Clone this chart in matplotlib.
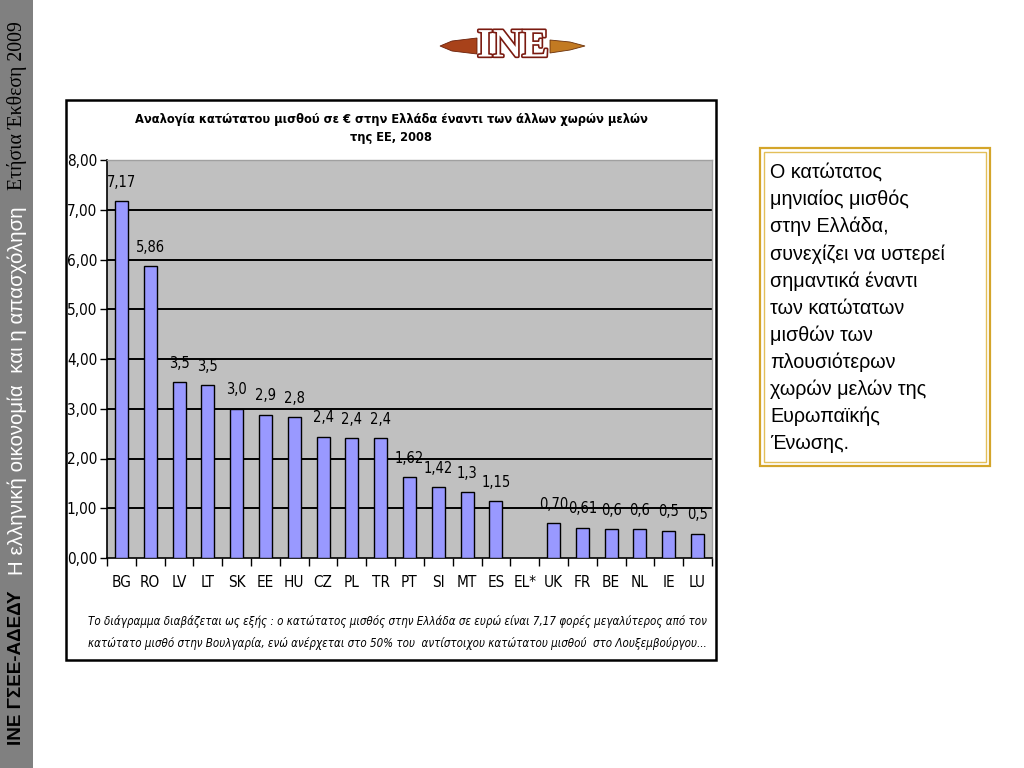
import matplotlib
matplotlib.use("Agg")
import matplotlib.pyplot as plt
from matplotlib import font_manager as fm
from matplotlib.patches import Rectangle, Polygon
from matplotlib.ticker import FixedLocator, FuncFormatter
import matplotlib.patheffects as pe

# ---- data -------------------------------------------------------------
countries = ["BG", "RO", "LV", "LT", "SK", "EE", "HU", "CZ", "PL", "TR", "PT",
             "SI", "MT", "ES", "EL*", "UK", "FR", "BE", "NL", "IE", "LU"]
ratios = [7.17, 5.86, 3.53, 3.47, 3.00, 2.88, 2.83, 2.44, 2.41, 2.41, 1.62,
          1.42, 1.32, 1.15, None, 0.70, 0.61, 0.58, 0.58, 0.55, 0.49]
value_labels = ["7,17", "5,86", "3,5", "3,5", "3,0", "2,9", "2,8", "2,4", "2,4",
                "2,4", "1,62", "1,42", "1,3", "1,15", "", "0,70", "0,61", "0,6",
                "0,6", "0,5", "0,5"]
y_ticks = [0, 1, 2, 3, 4, 5, 6, 7, 8]

chart_title = ("Αναλογία κατώτατου μισθού σε € στην Ελλάδα έναντι των άλλων χωρών μελών\n"
               "της ΕΕ, 2008")
footnote = ("Το διάγραμμα διαβάζεται ως εξής : ο κατώτατος μισθός στην Ελλάδα σε ευρώ είναι 7,17 φορές μεγαλύτερος από τον\n"
            "κατώτατο μισθό στην Βουλγαρία, ενώ ανέρχεται στο 50% του  αντίστοιχου κατώτατου μισθού  στο Λουξεμβούργου...")
side_note = ("Ο κατώτατος\nμηνιαίος μισθός\nστην Ελλάδα,\nσυνεχίζει να υστερεί\n"
             "σημαντικά έναντι\nτων κατώτατων\nμισθών των\nπλουσιότερων\n"
             "χωρών μελών της\nΕυρωπαϊκής\nΈνωσης.")

# pick a narrow face if one is installed (chart text in the original is Arial Narrow)
_fonts = {(f.name, f.stretch) for f in fm.fontManager.ttflist}
if any(n == "Liberation Sans Narrow" for n, _ in _fonts):
    NARROW = dict(family="Liberation Sans Narrow")
    have_narrow = True
elif ("DejaVu Sans", "condensed") in _fonts:
    NARROW = dict(family="DejaVu Sans", fontstretch="condensed")
    have_narrow = True
else:
    NARROW = dict(family="Liberation Sans")
    have_narrow = False
ARIAL = dict(family=["Liberation Sans", "DejaVu Sans"])
SERIF = dict(family=["Liberation Serif", "DejaVu Serif"])
small_fs = 10.5 if have_narrow else 9.5

W, H = 1024, 768
fig = plt.figure(figsize=(W / 100, H / 100), dpi=100, facecolor="white")
renderer = fig.canvas.get_renderer()


def fit(txt, target_px, along="width"):
    """Scale a text's font size so its extent matches target_px."""
    bb = txt.get_window_extent(renderer)
    cur = bb.width if along == "width" else bb.height
    txt.set_fontsize(txt.get_fontsize() * target_px / cur)


# background layer in pixel coordinates
bg = fig.add_axes([0, 0, 1, 1], zorder=0)
bg.set_xlim(0, W)
bg.set_ylim(H, 0)
bg.set_axis_off()

# left sidebar
bg.add_patch(Rectangle((0, 0), 33, H, facecolor="#808080", edgecolor="none"))
t1 = bg.text(17, 745, "ΙΝΕ ΓΣΕΕ-ΑΔΕΔΥ", rotation=90, ha="center", va="bottom",
             fontsize=13, fontweight="bold", color="black", **ARIAL)
t2 = bg.text(17, 575, "Η ελληνική οικονομία  και η απασχόληση", rotation=90,
             ha="center", va="bottom", fontsize=14, color="white", **ARIAL)
t3 = bg.text(17, 190, "Ετήσια Έκθεση 2009", rotation=90, ha="center",
             va="bottom", fontsize=14, color="black", **SERIF)
fit(t1, 155, "height")
fit(t2, 370, "height")
fit(t3, 170, "height")

# logo
bg.add_patch(Polygon([[440, 46], [452, 41], [477, 38], [477, 54], [452, 51]],
                     closed=True, facecolor="#a8421a", edgecolor="#6a200a", lw=0.6))
bg.add_patch(Polygon([[550, 40], [570, 42], [585, 46], [570, 50], [550, 53]],
                     closed=True, facecolor="#c27a22", edgecolor="#6a300a", lw=0.6))
bg.text(513, 47, "INE", ha="center", va="center", fontsize=29,
        fontweight="bold", color="white", **SERIF,
        path_effects=[pe.withStroke(linewidth=2.4, foreground="#7a1a10")])

# chart frame
bg.add_patch(Rectangle((66, 100), 650, 560, facecolor="white",
                       edgecolor="black", lw=1.8))
tt = bg.text(391, 128.5, chart_title, ha="center", va="center", fontsize=11.5,
             fontweight="bold", linespacing=1.6, **NARROW)
fit(tt, 515)
ft = bg.text(397, 632.5, footnote, ha="center", va="center", fontsize=10.5,
             style="italic", linespacing=1.8, **NARROW)
fit(ft, 620)

# side text box with double gold border
bg.add_patch(Rectangle((760, 148), 230, 318, facecolor="white",
                       edgecolor="#d4a52a", lw=1.6))
bg.add_patch(Rectangle((764, 152), 222, 310, facecolor="none",
                       edgecolor="#e3bf5a", lw=1.0))
bg.text(770, 163, side_note, ha="left", va="top", fontsize=14.2,
        linespacing=1.5, **ARIAL)

# ---- bar chart --------------------------------------------------------
ax = fig.add_axes([107 / W, 1 - 558 / H, 605 / W, 398 / H], zorder=2)
ax.set_facecolor("#c0c0c0")
x = list(range(len(countries)))
heights = [v if v is not None else 0 for v in ratios]
bars = ax.bar(x, heights, width=0.45, color="#9999ff", edgecolor="black",
              linewidth=1.0, zorder=3)
for b, v, lab in zip(bars, ratios, value_labels):
    if v is None:
        b.set_visible(False)
        continue
    ax.annotate(lab, (b.get_x() + b.get_width() / 2, v), xytext=(0, 13.5),
                textcoords="offset points", ha="center", va="center",
                fontsize=small_fs, zorder=4, **NARROW)

ax.set_xlim(-0.5, len(countries) - 0.5)
ax.set_ylim(0, 8)
ax.set_yticks(y_ticks)
ax.yaxis.set_major_formatter(FuncFormatter(lambda v, _: f"{v:.2f}".replace(".", ",")))
for yv in y_ticks[1:-1]:
    ax.axhline(yv, color="black", lw=1.4, zorder=2)

ax.set_xticks(x)
ax.set_xticklabels(countries)
ax.tick_params(axis="x", length=0, pad=12)
ax.xaxis.set_minor_locator(FixedLocator([i + 0.5 for i in range(-1, len(countries))]))
ax.tick_params(axis="x", which="minor", length=6, width=1, direction="out")
ax.tick_params(axis="y", length=5, width=1, direction="out", pad=2)
for lab in ax.get_xticklabels() + ax.get_yticklabels():
    lab.set_fontfamily(NARROW["family"])
    if "fontstretch" in NARROW:
        lab.set_fontstretch(NARROW["fontstretch"])
    lab.set_fontsize(small_fs + 0.5)

for side in ("top", "right"):
    ax.spines[side].set_color("#a0a0a0")
    ax.spines[side].set_linewidth(1.0)
for side in ("left", "bottom"):
    ax.spines[side].set_color("black")
    ax.spines[side].set_linewidth(1.2)

fig.savefig("out.png", dpi=100, facecolor="white")
